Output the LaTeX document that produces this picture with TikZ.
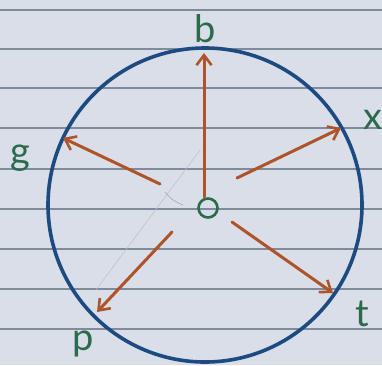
\documentclass[tikz,border=0pt]{standalone}
\usepackage{fontspec}
\setmainfont{Lato}
\usetikzlibrary{arrows.meta}
\definecolor{paperFill}{HTML}{d9dee8}
\definecolor{ruleLine}{HTML}{7f8a9c}
\definecolor{ringBlue}{HTML}{1d4a80}
\definecolor{rayOrange}{HTML}{ae532a}
\definecolor{penGreen}{HTML}{2b6a4c}
\def\ringR{157}
\def\picW{382}
\def\picH{365}

\begin{document}
\begin{tikzpicture}[x=1pt, y=-1pt,
                    lbl/.style={text=penGreen, font=\fontsize{38}{38}\selectfont, inner sep=0pt},
                    ray/.style={rayOrange, line width=3pt, line cap=round,
                                -{Straight Barb[length=10pt, width=15pt, line width=2.6pt]}}]

    % ==========================================================
    % 1. PAPER AND RULED LINES
    % ==========================================================
    \fill[paperFill] (0,0) rectangle (\picW,\picH);
    \useasboundingbox (0,0) rectangle (\picW,\picH);
    \foreach \yy in {10, 49, 88, 128, 169, 209, 249, 289, 329} {
        \draw[ruleLine, line width=2pt] (0,\yy) -- (\picW,\yy);
    }

    % ==========================================================
    % 2. NAMED COORDINATES
    % ==========================================================
    \coordinate (ctr)   at (205,205);
    \coordinate (bTail) at (204,197);  \coordinate (bHead) at (204,53);
    \coordinate (xTail) at (237,178);  \coordinate (xHead) at (341,128);
    \coordinate (gTail) at (160,184);  \coordinate (gHead) at (63,138);
    \coordinate (pTail) at (172,232);  \coordinate (pHead) at (97,312);
    \coordinate (tTail) at (232,222);  \coordinate (tHead) at (333,293);

    % ==========================================================
    % 3. RING
    % ==========================================================
    \draw[ringBlue, line width=3.6pt] (ctr) circle (\ringR);

    % faint pencil trace
    \draw[black!25, line width=0.5pt] (200,150) -- (96,290);
    \draw[black!35, line width=0.6pt] (165,192) .. controls (172,200) .. (183,205);

    % ==========================================================
    % 4. CENTRE AND RAYS
    % ==========================================================
    \node[circle, draw=penGreen, line width=2.6pt, minimum size=19pt, inner sep=0pt]
        (o) at (208,208) {};

    \draw[ray] (bTail) -- (bHead);
    \draw[ray] (xTail) -- (xHead);
    \draw[ray] (gTail) -- (gHead);
    \draw[ray] (pTail) -- (pHead);
    \draw[ray] (tTail) -- (tHead);

    % ==========================================================
    % 5. LETTERS
    % ==========================================================
    \node[lbl] (b) at (205,29)  {b};
    \node[lbl] (x) at (373,120) {x};
    \node[lbl] (g) at (20,158)  {g};
    \node[lbl] (p) at (83,344)  {p};
    \node[lbl] (t) at (362,314) {t};

\end{tikzpicture}
\end{document}
